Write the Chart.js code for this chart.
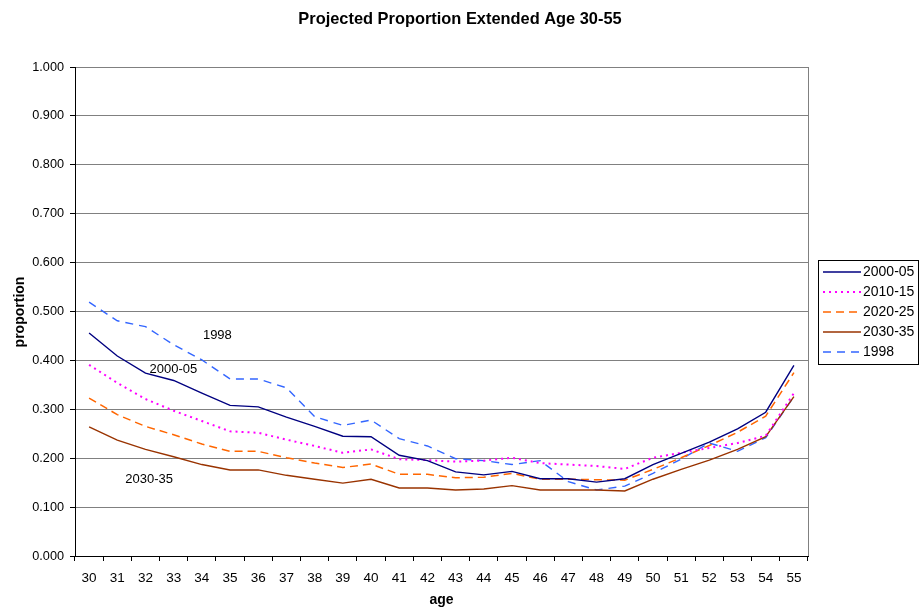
<!DOCTYPE html>
<html>
<head>
<meta charset="utf-8">
<script src="https://cdn.jsdelivr.net/npm/chart.js@4.4.1/dist/chart.umd.min.js"></script>
<style>
  html, body { margin: 0; padding: 0; background: #fff; }
  #wrap { width: 921px; height: 614px; position: relative; }
</style>
</head>
<body>
<div id="wrap"><canvas id="c" width="921" height="614"></canvas></div>
<script>
// Ages on the horizontal axis
const ages = ['30','31','32','33','34','35','36','37','38','39','40','41','42','43','44','45','46','47','48','49','50','51','52','53','54','55'];

// Projected proportion by age, one list per projection period
const s2000_05 = [0.456,0.409,0.374,0.359,0.333,0.308,0.305,0.284,0.265,0.245,0.244,0.206,0.195,0.172,0.166,0.173,0.158,0.158,0.151,0.158,0.187,0.210,0.233,0.260,0.294,0.390];
const s2010_15 = [0.391,0.354,0.321,0.297,0.276,0.255,0.252,0.238,0.225,0.211,0.218,0.198,0.196,0.193,0.195,0.201,0.190,0.187,0.184,0.178,0.201,0.211,0.221,0.231,0.246,0.333];
const s2020_25 = [0.323,0.289,0.265,0.248,0.229,0.214,0.214,0.201,0.190,0.181,0.188,0.167,0.167,0.160,0.161,0.169,0.157,0.157,0.156,0.155,0.177,0.201,0.226,0.253,0.286,0.375];
const s2030_35 = [0.264,0.237,0.218,0.203,0.187,0.176,0.176,0.165,0.157,0.149,0.157,0.139,0.139,0.135,0.137,0.144,0.135,0.135,0.135,0.133,0.157,0.177,0.196,0.218,0.244,0.326];
const s1998    = [0.519,0.481,0.469,0.432,0.401,0.362,0.362,0.344,0.285,0.267,0.278,0.240,0.225,0.199,0.195,0.187,0.195,0.152,0.135,0.143,0.169,0.198,0.231,0.214,0.242,0.326];

// Series names
const seriesNames = ['2000-05','2010-15','2020-25','2030-35','1998'];

// In-plot text labels, placed in data coordinates (age, proportion)
const noteText = ['1998','2000-05','2030-35'];
const noteAge  = [34.55, 32.99, 32.13];
const noteVal  = [0.452, 0.381, 0.157];

const FONT = '"Liberation Sans", Arial, sans-serif';

const styles = [
  { color: '#000080', dash: [],      width: 1.4 },
  { color: '#FF00FF', dash: [2, 4],  width: 2   },
  { color: '#FF6600', dash: [8, 5],  width: 1.5 },
  { color: '#993300', dash: [],      width: 1.4 },
  { color: '#3366FF', dash: [8, 6],  width: 1.4 }
];
const seriesData = [s2000_05, s2010_15, s2020_25, s2030_35, s1998];

const datasets = seriesNames.map((name, i) => ({
  label: name,
  data: seriesData[i],
  borderColor: styles[i].color,
  backgroundColor: styles[i].color,
  borderWidth: styles[i].width,
  borderDash: styles[i].dash,
  pointRadius: 0,
  pointHoverRadius: 0,
  tension: 0,
  fill: false
}));

const decorations = {
  id: 'decorations',
  afterDraw(chart) {
    const ctx = chart.ctx;
    const area = chart.chartArea;
    const xs = chart.scales.x, ys = chart.scales.y;
    ctx.save();

    // right edge of the plot frame
    ctx.strokeStyle = '#808080';
    ctx.lineWidth = 1;
    ctx.beginPath();
    ctx.moveTo(Math.round(area.right) + 0.5, area.top);
    ctx.lineTo(Math.round(area.right) + 0.5, area.bottom);
    ctx.stroke();

    // title
    ctx.fillStyle = '#000';
    ctx.textAlign = 'center';
    ctx.textBaseline = 'alphabetic';
    ctx.font = 'bold 16.4px ' + FONT;
    ctx.fillText('Projected Proportion Extended Age 30-55', 460, 23.5);

    // axis titles
    ctx.font = 'bold 14px ' + FONT;
    ctx.fillText('age', (area.left + area.right) / 2, 603.5);
    ctx.save();
    ctx.translate(24, 312);
    ctx.rotate(-Math.PI / 2);
    ctx.fillText('proportion', 0, 0);
    ctx.restore();

    // in-plot labels
    ctx.textBaseline = 'middle';
    ctx.font = '13px ' + FONT;
    noteText.forEach((t, i) => {
      const px = xs.getPixelForValue(noteAge[i] - 30);
      const py = ys.getPixelForValue(noteVal[i]);
      ctx.fillText(t, px, py);
    });

    // legend
    const lx = 818, ly = 260, lw = 100, lh = 104;
    ctx.strokeStyle = '#000';
    ctx.lineWidth = 1;
    ctx.strokeRect(lx + 0.5, ly + 0.5, lw, lh);
    ctx.font = '14px ' + FONT;
    ctx.textAlign = 'left';
    seriesNames.forEach((name, i) => {
      const y = ly + 12 + i * 20;
      ctx.save();
      ctx.strokeStyle = styles[i].color;
      ctx.lineWidth = styles[i].width;
      ctx.setLineDash(styles[i].dash);
      ctx.beginPath();
      ctx.moveTo(823, y);
      ctx.lineTo(861, y);
      ctx.stroke();
      ctx.restore();
      ctx.fillStyle = '#000';
      ctx.fillText(name, 863, y + 0.5);
    });

    ctx.restore();
  }
};

new Chart(document.getElementById('c'), {
  type: 'line',
  data: { labels: ages, datasets },
  plugins: [decorations],
  options: {
    responsive: false,
    animation: false,
    events: [],
    layout: { padding: { top: 67, right: 113, left: 0, bottom: 0 } },
    plugins: {
      legend: { display: false },
      title: { display: false },
      tooltip: { enabled: false }
    },
    scales: {
      x: {
        type: 'category',
        offset: true,
        afterFit(scale) { scale.height = 58; },
        grid: {
          offset: true,
          drawOnChartArea: false,
          drawTicks: true,
          tickLength: 5,
          tickColor: '#000'
        },
        border: { color: '#000', width: 1 },
        ticks: {
          color: '#000',
          font: { family: FONT, size: 13.5 },
          padding: 9,
          maxRotation: 0,
          autoSkip: false
        }
      },
      y: {
        min: 0,
        max: 1,
        afterFit(scale) { scale.width = 75; },
        grid: {
          color: '#808080',
          lineWidth: 1,
          drawTicks: true,
          tickLength: 5,
          tickColor: '#000'
        },
        border: { color: '#000', width: 1 },
        ticks: {
          stepSize: 0.1,
          color: '#000',
          font: { family: FONT, size: 12.7 },
          padding: 6,
          callback: v => Number(v).toFixed(3)
        }
      }
    }
  }
});
</script>
</body>
</html>
